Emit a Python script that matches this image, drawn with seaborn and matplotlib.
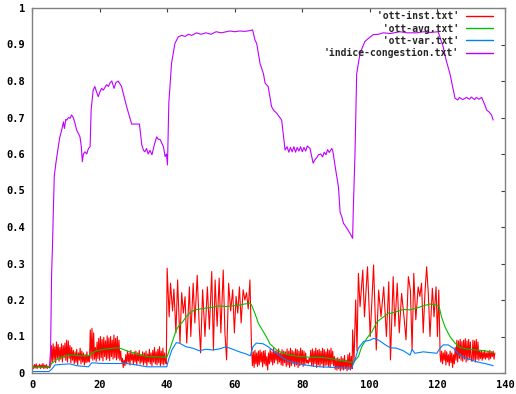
import numpy as np
import pandas as pd
import matplotlib
matplotlib.use("Agg")
import matplotlib.pyplot as plt
import seaborn as sns
from matplotlib.lines import Line2D

# ---------------- data (values in thousandths) ----------------
# 'ott-inst.txt' : dense parts sampled every 0.25 time unit
inst_dense1_start = 0.0
inst_dense1 = [15, 21, 12, 23, 14, 25, 12, 20, 17, 24, 12, 22, 15, 26, 12, 21, 14, 23, 12, 19, 15, 14,
               20, 75, 30, 80, 35, 72, 28, 85, 40, 78, 32, 70, 38, 80, 30, 75, 42, 82, 35, 90,
               30, 88, 40, 75, 28, 70, 35, 62, 25, 58, 30, 65, 22, 55, 35, 68, 25, 60, 30, 55,
               22, 50, 28, 58, 30, 48,
               30, 118, 40, 122, 35, 110, 38, 70, 32, 85, 40, 95, 35, 100, 42, 92, 33, 98, 45, 88,
               36, 102, 40, 96, 34, 100, 45, 90, 38, 104, 42, 95, 36, 100, 40, 90, 35, 60, 30, 40,
               15, 35, 20, 50, 25, 60, 30, 55, 22, 62, 35, 52, 25, 58, 30, 60, 22, 55, 33, 62,
               25, 50, 30, 58, 22, 55, 28, 60, 20, 52, 30, 65, 25, 55, 20, 62, 30, 70, 25, 58,
               22, 65, 28, 72, 20, 60, 25, 68, 22, 55, 30, 25]
inst_spike1_t = [40.0, 40.6, 41.0, 41.6, 42.0, 42.6, 43.1, 43.8, 44.3, 44.8, 45.3, 45.8, 46.6, 47.0,
                 47.7, 48.2, 48.9, 49.5, 49.9, 50.5, 51.2, 51.9, 52.5, 53.2, 53.7, 54.2, 54.8, 55.4,
                 55.9, 56.6, 57.1, 57.6, 58.2, 58.8, 59.4, 59.9, 60.4, 60.9, 61.4, 61.9, 62.5, 63.0,
                 63.5, 64.0, 64.5, 65.0]
inst_spike1_v = [287, 154, 246, 170, 230, 110, 255, 82, 220, 164, 209, 82, 236, 100,
                 246, 137, 268, 128, 55, 228, 100, 236, 120, 278, 63, 255, 128, 260,
                 110, 282, 110, 36, 246, 170, 228, 110, 210, 164, 236, 137, 228, 200,
                 220, 175, 255, 63]
inst_dense2_start = 65.25
inst_dense2 = [20, 58, 15, 62, 25, 55, 18, 60, 22, 63, 30, 57, 17, 60, 25, 62, 20, 45, 8, 55,
               25, 65, 30, 58, 22, 68, 28, 60, 35, 62, 25, 66, 30, 55, 22, 64, 20, 60, 28, 58,
               18, 66, 22, 60, 15, 68, 20, 62, 25, 58, 18, 66, 22, 64, 15, 60, 20, 68, 25, 62,
               18, 60, 22, 55, 28, 35, 25, 40, 30, 62, 20, 66, 18, 60, 25, 68, 15, 62, 22, 65,
               18, 60, 25, 68, 15, 64, 20, 58, 22, 66, 18, 62, 15, 68, 25, 60, 20, 45, 10, 40,
               8, 42, 12, 38, 6, 45, 10, 40, 8, 48, 12, 35, 6, 50, 10, 55, 8, 45, 12]
inst_spike2_t = [94.9, 95.3, 95.8, 96.2, 96.6, 97.1, 97.9, 98.4, 99.3, 100.1, 101.1, 101.9, 102.6,
                 103.3, 104.1, 104.9, 105.6, 106.1, 106.9, 107.4, 108.1, 108.7, 109.4, 110.1,
                 110.7, 111.4, 112.0, 112.5, 113.0, 113.6, 114.3, 114.8, 115.3, 115.8, 116.3,
                 116.8, 117.3, 117.8, 118.5, 119.0, 119.6, 120.0, 120.4, 120.8]
inst_spike2_v = [118, 30, 200, 60, 273, 182, 282, 154, 291, 100, 296, 63, 227,
                 154, 236, 100, 250, 36, 264, 128, 246, 110, 218, 154,
                 91, 264, 227, 63, 273, 146, 236, 210, 246, 110, 218,
                 291, 218, 100, 232, 154, 236, 100, 227, 49]
inst_dense3_start = 121.0
inst_dense3 = [30, 60, 25, 55, 35, 62, 22, 58, 30, 50, 20, 60, 28, 55, 15, 50, 25,
               70, 35, 90, 30, 88, 40, 92, 35, 86, 32, 90, 38, 94, 30, 88, 35, 92, 40, 85, 36,
               32, 90, 36, 88, 30, 92, 38, 85, 35, 60, 40, 62,
               35, 58, 40, 62, 38, 55, 42, 60, 36, 62, 40, 58, 45, 60, 38, 55]

# 'ott-avg.txt'
avg_t = [0, 5.0, 5.8, 7.3, 9.3, 10.8, 12.2, 14.2, 16.7, 17.7, 19.1, 22.1, 25.1, 26.0, 28.0,
         31.0, 34.0, 37.9, 39.9, 40.7, 41.7, 42.7, 43.6, 44.6, 45.6, 46.6, 48.1, 49.5, 51.5, 53.5,
         55.5, 57.4, 59.4, 61.4, 62.9, 64.5, 65.0, 66.0, 67.0, 68.5, 70.0, 70.4, 72.4, 74.4, 76.4,
         79.3, 82.3, 85.3, 88.2, 90.2, 93.2, 95.1, 96.6, 97.6, 99.1, 100.6, 102.1, 104.1, 105.6,
         106.0, 107.9, 109.9, 111.9, 113.9, 115.8, 117.8, 119.8, 120.5, 121.2, 122.2, 123.7,
         125.2, 126.6, 128.6, 131.5, 134.0, 136.5]
avg_v = [16, 16, 26, 37, 45, 49, 49, 47, 47, 54, 61, 66, 69, 68, 61,
         52, 45, 44, 43, 63, 90, 118, 131, 140, 154, 164, 173, 175, 178, 180,
         184, 182, 184, 186, 189, 191, 186, 163, 136, 113, 88, 80, 63, 54, 49,
         45, 43, 43, 40, 36, 31, 29, 45, 72, 95, 113, 140, 154, 165,
         163, 168, 174, 173, 178, 184, 189, 186, 182, 154, 127, 100,
         82, 70, 66, 63, 61, 56]

# 'ott-var.txt'
var_t = [0, 5.0, 5.8, 6.8, 9.3, 11.2, 13.2, 16.7, 17.7, 21.1, 25.1, 28.0, 31.0, 34.0, 39.9,
         40.4, 41.4, 42.7, 43.6, 45.6, 47.6, 49.5, 51.5, 53.5, 55.5, 57.4, 59.4, 61.4, 63.4, 64.6,
         65.4, 66.4, 68.4, 69.9, 72.4, 74.4, 76.4, 79.3, 82.3, 85.3, 90.2, 94.6, 95.6, 96.6, 98.1,
         100.1, 101.1, 102.6, 104.6, 106.1, 107.9, 109.9, 111.9, 112.5, 113.3, 115.8, 117.8, 119.8,
         120.8, 121.7, 123.2, 124.7, 126.6, 128.6, 131.5, 134.5, 136.5]
var_v = [4, 4, 10, 22, 24, 25, 20, 17, 28, 26, 26, 26, 22, 17, 17,
         36, 63, 83, 82, 72, 68, 61, 65, 63, 66, 72, 65, 58, 52, 47,
         72, 82, 80, 72, 54, 40, 31, 24, 20, 17, 15, 13, 36, 68, 86,
         90, 95, 90, 77, 69, 68, 61, 49, 65, 54, 58, 56, 54,
         68, 77, 77, 68, 49, 40, 31, 25, 20]

# 'indice-congestion.txt'
cong_t = [5.2, 5.5, 5.8, 6.1, 6.3, 6.6, 7.0, 7.3, 7.8, 8.2, 8.8, 9.3, 9.6, 10.0, 10.3, 10.8, 11.3,
          11.7, 12.2, 12.7, 13.2, 14.2, 14.6, 14.9, 15.2, 15.7, 16.2, 16.7, 17.2, 17.5, 18.1, 18.6,
          19.1, 19.6, 20.1, 20.6, 21.1, 22.1, 22.6, 23.1, 23.6, 24.3, 24.8, 25.5, 26.5, 28.0, 29.5,
          31.8, 32.5, 33.0, 33.4, 33.9, 34.4, 34.9, 35.5, 36.2, 36.9, 37.4, 37.9, 38.4, 38.9, 39.4,
          39.8, 40.1, 40.5, 41.3, 42.3, 43.3, 44.3, 45.3, 46.3, 47.3, 48.7, 50.0, 51.5, 53.0, 54.5,
          56.0, 57.5, 58.6, 60.0, 61.5, 63.0, 64.5, 65.3, 66.0, 66.5, 67.5, 68.5, 69.0, 69.9, 70.9,
          71.5, 72.4, 73.9, 74.9, 75.5, 76.0, 76.5, 77.0, 77.5, 78.0, 78.5, 79.0, 79.5, 80.0, 80.5,
          81.0, 81.5, 82.3, 83.2, 83.8, 84.3, 84.8, 85.5, 86.0, 86.5, 87.0, 87.5, 88.0, 88.7, 89.0,
          90.0, 90.7, 91.2, 91.7, 92.2, 92.6, 93.3, 94.1, 94.9, 95.1, 95.6, 96.1, 97.1, 98.5, 100.0,
          101.0, 102.5, 104.0, 106.0, 108.9, 111.0, 113.8, 116.0, 118.0, 120.2, 121.7, 122.5, 123.7,
          124.5, 125.2, 126.0, 126.5, 127.5, 128.6, 129.5, 130.0, 131.0, 131.5, 132.3, 133.1, 134.0,
          134.6, 135.3, 136.0, 136.5]
cong_v = [20, 63, 270, 360, 440, 540, 570, 590, 620, 645, 666, 688, 670, 695, 693, 700, 698,
          707, 700, 685, 666, 647, 620, 579, 600, 606, 600, 615, 620, 720, 775, 785,
          770, 757, 770, 780, 775, 790, 785, 795, 800, 780, 795, 800, 785, 730, 682,
          682, 625, 610, 606, 615, 600, 610, 598, 625, 647, 640, 640, 630, 620, 593,
          600, 570, 740, 848, 903, 921, 925, 922, 928, 925, 932, 928, 932, 928, 935,
          932, 935, 937, 935, 937, 936, 938, 940, 912, 903, 848, 820, 794, 785, 730,
          720, 712, 693, 611, 620, 605, 618, 606, 620, 605, 618, 608, 620, 606, 618,
          608, 622, 615, 575, 585, 590, 598, 600, 592, 605, 598, 612, 604, 615, 610,
          550, 510, 440, 428, 410, 405, 395, 383, 369, 450, 600, 820, 876, 908, 920,
          927, 928, 932, 930, 935, 932, 932, 935, 933, 935, 894, 860, 820,
          785, 753, 748, 755, 749, 755, 750, 756, 749, 755, 750, 755, 735,
          720, 715, 707, 693]

series_names = ["'ott-inst.txt'", "'ott-avg.txt'", "'ott-var.txt'", "'indice-congestion.txt'"]
series_colors = ["#ff0000", "#00c000", "#0080ff", "#c000ff"]
x_ticks = [0, 20, 40, 60, 80, 100, 120, 140]
y_ticks = [0, 0.1, 0.2, 0.3, 0.4, 0.5, 0.6, 0.7, 0.8, 0.9, 1]
y_tick_labels = ["0", "0.1", "0.2", "0.3", "0.4", "0.5", "0.6", "0.7", "0.8", "0.9", "1"]

# ---------------- assemble tables ----------------
def dense(start, vals, step=0.25):
    return list(start + step * np.arange(len(vals))), list(vals)

parts = [dense(inst_dense1_start, inst_dense1), (inst_spike1_t, inst_spike1_v),
         dense(inst_dense2_start, inst_dense2), (inst_spike2_t, inst_spike2_v),
         dense(inst_dense3_start, inst_dense3)]
inst_t = np.concatenate([np.asarray(p[0], float) for p in parts])
inst_v = np.concatenate([np.asarray(p[1], float) for p in parts]) / 1000.0

frames = [
    pd.DataFrame({"t": inst_t, "v": inst_v}),
    pd.DataFrame({"t": avg_t, "v": np.asarray(avg_v) / 1000.0}),
    pd.DataFrame({"t": var_t, "v": np.asarray(var_v) / 1000.0}),
    pd.DataFrame({"t": cong_t, "v": np.asarray(cong_v) / 1000.0}),
]

# ---------------- plot ----------------
sns.set_theme(style="white")
plt.rcParams["font.family"] = ["DejaVu Sans Mono", "DejaVu Sans"]
plt.rcParams["font.weight"] = "bold"

fig = plt.figure(figsize=(5.16, 3.94), dpi=100)
fig.patch.set_facecolor("white")
ax = fig.add_axes([32 / 516, 21 / 394, 473 / 516, 365 / 394])
ax.set_facecolor("white")

for df, col in zip(frames, series_colors):
    sns.lineplot(data=df, x="t", y="v", ax=ax, color=col, linewidth=0.8,
                 sort=False, estimator=None, legend=False)

ax.set_xlim(0, 140)
ax.set_ylim(0, 1)
ax.set_xticks(x_ticks)
ax.set_xticklabels([str(v) for v in x_ticks])
ax.set_yticks(y_ticks)
ax.set_yticklabels(y_tick_labels)
ax.set_xlabel("")
ax.set_ylabel("")
ax.tick_params(direction="in", length=3, width=0.8, color="#404040",
               top=True, right=True, labelsize=7.5, pad=5, labelcolor="black")
for sp in ax.spines.values():
    sp.set_color("#808080")
    sp.set_linewidth(1.0)

width = max(len(s) for s in series_names)
handles = [Line2D([], [], color=c, linewidth=1.0) for c in series_colors]
labels = [s.rjust(width) for s in series_names]
ax.legend(handles, labels, loc="upper right", bbox_to_anchor=(0.975, 0.991),
          frameon=False, markerfirst=False, handlelength=2.8, handletextpad=0.7,
          labelspacing=0.23, borderaxespad=0, borderpad=0,
          prop=dict(family="DejaVu Sans Mono", weight="bold", size=7.0))

fig.savefig("out.png", dpi=100, facecolor="white")
